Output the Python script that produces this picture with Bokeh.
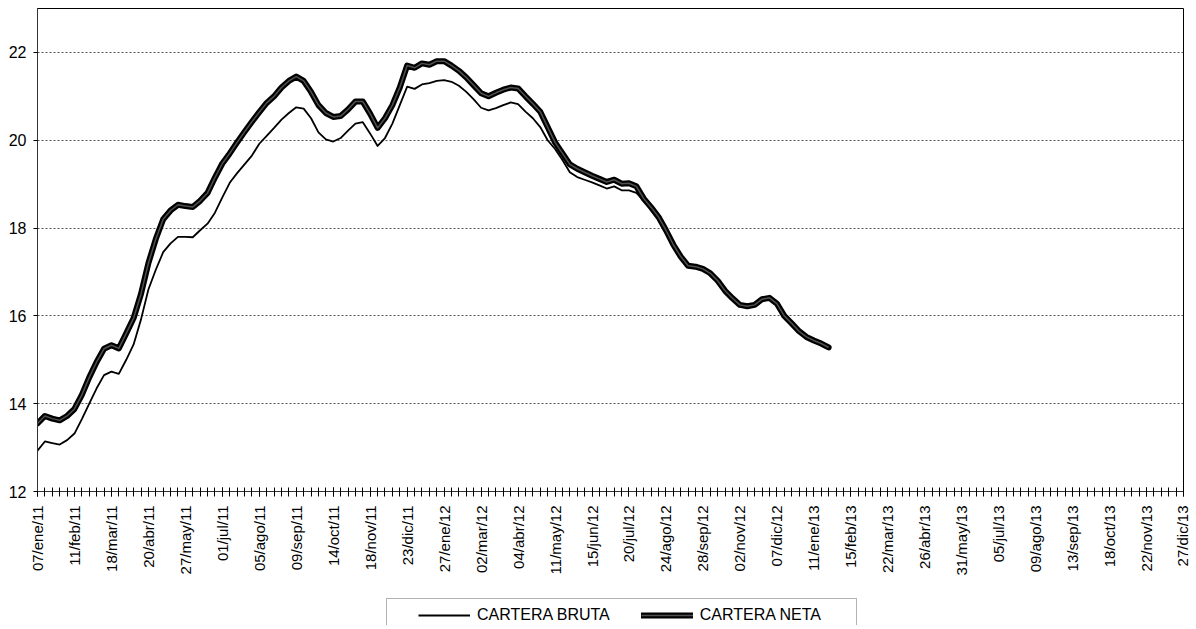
import math
from bokeh.plotting import figure
from bokeh.layouts import column
from bokeh.models import Range1d, FixedTicker, Legend, LegendItem, BoxAnnotation
from bokeh.embed import file_html
from bokeh.resources import INLINE

# ---- data ----
tick_labels = [
    "07/ene/11", "11/feb/11", "18/mar/11", "20/abr/11", "27/may/11", "01/jul/11",
    "05/ago/11", "09/sep/11", "14/oct/11", "18/nov/11", "23/dic/11", "27/ene/12",
    "02/mar/12", "04/abr/12", "11/may/12", "15/jun/12", "20/jul/12", "24/ago/12",
    "28/sep/12", "02/nov/12", "07/dic/12", "11/ene/13", "15/feb/13", "22/mar/13",
    "26/abr/13", "31/may/13", "05/jul/13", "09/ago/13", "13/sep/13", "18/oct/13",
    "22/nov/13", "27/dic/13",
]
weeks_per_label = 5
n_weeks = 156

cartera_neta = [
    13.55, 13.72, 13.66, 13.62, 13.72, 13.88, 14.20, 14.60, 14.95, 15.25,
    15.33, 15.26, 15.60, 15.95, 16.50, 17.20, 17.75, 18.20, 18.40, 18.53,
    18.50, 18.48, 18.62, 18.80, 19.15, 19.47, 19.70, 19.95, 20.19, 20.42,
    20.64, 20.85, 21.00, 21.20, 21.35, 21.45, 21.35, 21.10, 20.80, 20.62,
    20.53, 20.55, 20.70, 20.88, 20.88, 20.60, 20.28, 20.50, 20.80, 21.20,
    21.70, 21.65, 21.75, 21.72, 21.80, 21.80, 21.70, 21.58, 21.43, 21.25,
    21.07, 21.00, 21.08, 21.15, 21.20, 21.18, 21.00, 20.83, 20.65, 20.30,
    19.95, 19.70, 19.45, 19.35, 19.27, 19.19, 19.12, 19.05, 19.10, 19.01,
    19.02, 18.95, 18.67, 18.47, 18.25, 17.95, 17.62, 17.35, 17.14, 17.12,
    17.07, 16.97, 16.80, 16.57, 16.40, 16.25, 16.22, 16.25, 16.38, 16.41,
    16.28, 16.00, 15.83, 15.65, 15.52, 15.44, 15.37, 15.28,
]

cartera_bruta = [
    12.93, 13.14, 13.10, 13.07, 13.17, 13.32, 13.65, 14.00, 14.35, 14.65,
    14.73, 14.68, 15.00, 15.35, 15.92, 16.60, 17.05, 17.45, 17.65, 17.80,
    17.80, 17.79, 17.95, 18.10, 18.35, 18.70, 19.03, 19.25, 19.45, 19.65,
    19.92, 20.10, 20.28, 20.47, 20.62, 20.75, 20.72, 20.50, 20.18, 20.02,
    19.97, 20.05, 20.22, 20.38, 20.41, 20.15, 19.87, 20.05, 20.38, 20.80,
    21.22, 21.17, 21.27, 21.30, 21.35, 21.37, 21.33, 21.24, 21.10, 20.93,
    20.74, 20.68, 20.73, 20.80, 20.86, 20.82, 20.65, 20.50, 20.30, 20.00,
    19.80, 19.55, 19.27, 19.16, 19.10, 19.04, 18.97, 18.90, 18.95, 18.86,
    18.86, 18.80, 18.62, 18.44, 18.22, 17.92, 17.60, 17.33, 17.12, 17.10,
    17.05, 16.95, 16.78, 16.55, 16.38, 16.23, 16.20, 16.23, 16.36, 16.39,
    16.26, 15.98, 15.81, 15.63, 15.50, 15.42, 15.35, 15.26,
]

series_names = ["CARTERA BRUTA", "CARTERA NETA"]
y_ticks = [12, 14, 16, 18, 20, 22]

FONT = "Liberation Sans"
BRUTA_STYLE = dict(line_color="black", line_width=1.8, line_join="round")
NETA_STYLE = dict(line_color="black", line_width=6, line_join="round", line_cap="round")
NETA_CORE = dict(line_color="#505050", line_width=1.5, line_join="round")

p = figure(width=1190, height=591, output_backend="svg", toolbar_location=None,
           x_range=Range1d(0, n_weeks - 1), y_range=Range1d(12, 23),
           min_border_left=37, min_border_right=7, min_border_top=8,
           min_border_bottom=100)

p.background_fill_color = "white"
p.border_fill_color = "white"
p.outline_line_color = "black"
p.outline_line_width = 1

xb = list(range(len(cartera_bruta)))
xn = list(range(len(cartera_neta)))

p.line(xb, cartera_bruta, **BRUTA_STYLE)
p.line(xn, cartera_neta, **NETA_STYLE)
p.line(xn, cartera_neta, **NETA_CORE)

# x axis
major_pos = [i * weeks_per_label for i in range(len(tick_labels))]
p.xaxis.ticker = FixedTicker(ticks=major_pos, minor_ticks=list(range(n_weeks)))
p.xaxis.major_label_overrides = {pos: lab for pos, lab in zip(major_pos, tick_labels)}
p.xaxis.major_label_orientation = math.pi / 2
p.xaxis.major_label_text_font = FONT
p.xaxis.major_label_text_font_size = "15px"
p.xaxis.major_label_text_color = "black"
p.xaxis.major_label_standoff = 9
p.xaxis.major_tick_in = 4
p.xaxis.major_tick_out = 5
p.xaxis.minor_tick_in = 4
p.xaxis.minor_tick_out = 5
p.xaxis.major_tick_line_color = "black"
p.xaxis.minor_tick_line_color = "black"
p.xaxis.axis_line_color = "#333333"

# y axis
p.yaxis.ticker = FixedTicker(ticks=y_ticks, minor_ticks=[])
p.yaxis.major_label_text_font = FONT
p.yaxis.major_label_text_font_size = "16px"
p.yaxis.major_label_text_color = "black"
p.yaxis.major_label_standoff = 7
p.yaxis.major_tick_in = 0
p.yaxis.major_tick_out = 4
p.yaxis.major_tick_line_color = "black"
p.yaxis.axis_line_color = "#333333"

p.xgrid.visible = False
p.ygrid.ticker = FixedTicker(ticks=y_ticks)
p.ygrid.grid_line_color = "#555555"
p.ygrid.grid_line_dash = "2 2"
p.ygrid.grid_line_width = 1

# ---- legend strip below the chart (pixel-like ranges) ----
pl = figure(width=1190, height=34, output_backend="svg", toolbar_location=None,
            x_range=Range1d(0, 1146), y_range=Range1d(-34, 0),
            min_border_left=37, min_border_right=7, min_border_top=0, min_border_bottom=0)
pl.axis.visible = False
pl.grid.visible = False
pl.outline_line_color = None
pl.background_fill_color = "white"
pl.border_fill_color = "white"

# the same series, drawn outside this strip's ranges, only to feed the legend glyphs
lb = pl.line(xb, cartera_bruta, **BRUTA_STYLE)
ln = pl.line(xn, cartera_neta, **NETA_STYLE)
ln2 = pl.line(xn, cartera_neta, **NETA_CORE)

pl.add_layout(BoxAnnotation(left=349, right=819, top=-7, bottom=-60,
                            fill_alpha=0, line_color="black", line_width=1))

legend = Legend(items=[
    LegendItem(label=series_names[0], renderers=[lb]),
    LegendItem(label=series_names[1], renderers=[ln, ln2]),
], orientation="horizontal", location=(381, 1))
legend.label_text_font = FONT
legend.label_text_font_size = "16px"
legend.label_text_color = "black"
legend.glyph_width = 52
legend.glyph_height = 16
legend.label_height = 16
legend.label_standoff = 7
legend.spacing = 31
legend.padding = 0
legend.margin = 0
legend.border_line_color = None
legend.background_fill_alpha = 0
pl.add_layout(legend, "center")

layout = column(p, pl, spacing=0)
open("out.html", "w").write(file_html(layout, INLINE))
